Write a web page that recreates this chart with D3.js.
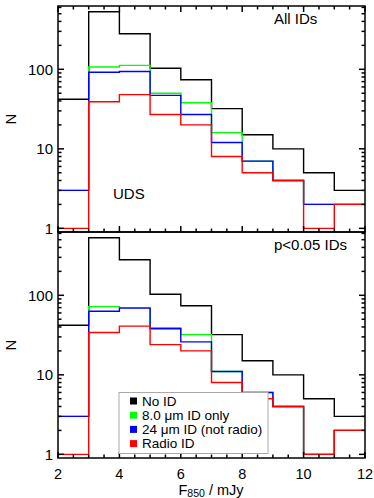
<!DOCTYPE html>
<html><head><meta charset="utf-8">
<script src="https://cdn.jsdelivr.net/npm/d3@7"></script>
<style>body{margin:0;background:#fff}svg{display:block}text{font-family:"Liberation Sans",Arial,sans-serif}</style>
</head><body><div id="chart"></div>
<script>
// bin edges (F850 / mJy)
const binEdges = [2,3,4,5,6,7,8,9,10,11,12];
const xTicks = [2,4,6,8,10,12];
const yTicks = [1,10,100];

// Top panel: All IDs
const allNoID    = [42, 530, 280, 103, 74, 32, 15, 10, 5, 3];
const allIRAC    = [3, 107, 112, 50, 38, 16, 7, 4, 2, 2];
const allMIPS    = [3, 92, 94, 47, 27, 12, 7, 4, 2, 2];
const allRadio   = [1, 39, 48, 27, 20, 8, 5, 4, 1, 2];

// Bottom panel: p<0.05 IDs
const pNoID      = [42, 530, 280, 103, 74, 32, 15, 10, 5, 3];
const pIRAC      = [3, 72, 70, 39, 32, 11, 6, 4, 1, 2];
const pMIPS      = [3, 63, 69, 38, 26, 11, 6, 4, 1, 2];
const pRadio     = [1, 34, 41, 24, 20, 8, 5, 4, 1, 2];

const seriesNames = ["No ID", "8.0 \u03BCm ID only", "24 \u03BCm ID (not radio)", "Radio ID"];
const seriesColors = ["#000000", "#00ff00", "#0000ff", "#ff0000"];

const W = 374, H = 498;
const L = 58, R = 365;
const panels = [
  {top: 6, bottom: 232, data: [allNoID, allIRAC, allMIPS, allRadio], label: "All IDs", topTicks: true},
  {top: 232, bottom: 458, data: [pNoID, pIRAC, pMIPS, pRadio], label: "p<0.05 IDs", topTicks: false}
];

const svg = d3.select("#chart").append("svg").attr("width", W).attr("height", H);
const x = d3.scaleLinear().domain([2, 12]).range([L, R]);

const minorX = d3.range(2, 12.01, 0.5).filter(v => Math.abs(v % 2) > 1e-6);
const minorY = [];
[0.1, 1, 10, 100].forEach(d => { for (let k = 2; k <= 9; k++) minorY.push(k * d); });

panels.forEach((p, pi) => {
  const y = d3.scaleLog().domain([0.9, 625]).range([p.bottom, p.top]);
  const g = svg.append("g");
  const clipId = "clip" + pi;
  svg.append("clipPath").attr("id", clipId).append("rect")
    .attr("x", L).attr("y", p.top).attr("width", R - L).attr("height", p.bottom - p.top);

  // histograms
  const lineGen = d3.line().x(d => x(d[0])).y(d => y(d[1]));
  p.data.forEach((vals, si) => {
    const pts = [];
    vals.forEach((v, i) => { pts.push([binEdges[i], v]); pts.push([binEdges[i + 1], v]); });
    g.append("path").attr("d", lineGen(pts)).attr("fill", "none")
      .attr("stroke", seriesColors[si]).attr("stroke-width", 1.4)
      .attr("clip-path", `url(#${clipId})`);
  });

  // axes frame
  const ax = svg.append("g").attr("stroke", "#000").attr("stroke-width", 1.5);
  ax.append("rect").attr("x", L).attr("y", p.top).attr("width", R - L).attr("height", p.bottom - p.top)
    .attr("fill", "none");

  // x ticks (bottom, pointing up)
  xTicks.forEach(v => ax.append("line").attr("x1", x(v)).attr("x2", x(v)).attr("y1", p.bottom).attr("y2", p.bottom - 6));
  minorX.forEach(v => ax.append("line").attr("x1", x(v)).attr("x2", x(v)).attr("y1", p.bottom).attr("y2", p.bottom - 3.5));
  if (p.topTicks) {
    xTicks.forEach(v => ax.append("line").attr("x1", x(v)).attr("x2", x(v)).attr("y1", p.top).attr("y2", p.top + 6));
    minorX.forEach(v => ax.append("line").attr("x1", x(v)).attr("x2", x(v)).attr("y1", p.top).attr("y2", p.top + 3.5));
  }
  // y ticks left & right
  const [d0, d1] = y.domain();
  yTicks.forEach(v => {
    ax.append("line").attr("x1", L).attr("x2", L + 6).attr("y1", y(v)).attr("y2", y(v));
    ax.append("line").attr("x1", R).attr("x2", R - 6).attr("y1", y(v)).attr("y2", y(v));
  });
  minorY.filter(v => v > d0 && v < d1).forEach(v => {
    ax.append("line").attr("x1", L).attr("x2", L + 3.5).attr("y1", y(v)).attr("y2", y(v));
    ax.append("line").attr("x1", R).attr("x2", R - 3.5).attr("y1", y(v)).attr("y2", y(v));
  });

  // y tick labels
  yTicks.forEach(v => svg.append("text").attr("x", L - 5).attr("y", y(v)).attr("dy", "0.36em")
    .attr("text-anchor", "end").attr("font-size", 15).text(v));

  // y axis label
  svg.append("text").attr("transform", `translate(16,${(p.top + p.bottom) / 2}) rotate(-90)`)
    .attr("text-anchor", "middle").attr("font-size", 15).text("N");

  // panel label
  svg.append("text").attr("x", 274).attr("y", p.top + 18).attr("font-size", 15).text(p.label);
});

// UDS label
svg.append("text").attr("x", 113).attr("y", 199).attr("font-size", 15).text("UDS");

// x tick labels
xTicks.forEach(v => svg.append("text").attr("x", x(v)).attr("y", 478.5).attr("text-anchor", "middle")
  .attr("font-size", 14.5).text(v));

// x axis label
const xl = svg.append("text").attr("x", 211).attr("y", 494.5).attr("text-anchor", "middle").attr("font-size", 14.5);
xl.append("tspan").text("F");
xl.append("tspan").attr("font-size", 10.5).attr("dy", 2.5).text("850");
xl.append("tspan").attr("dy", -2.5).text(" / mJy");

// legend
const lg = svg.append("g");
lg.append("rect").attr("x", 119).attr("y", 392.5).attr("width", 149).attr("height", 61)
  .attr("fill", "#fff").attr("stroke", "#aaaaaa").attr("stroke-width", 1);
seriesNames.forEach((n, i) => {
  const cy = 401 + i * 14.2;
  lg.append("rect").attr("x", 130).attr("y", cy - 3.5).attr("width", 7).attr("height", 7).attr("fill", seriesColors[i]);
  lg.append("text").attr("x", 142).attr("y", cy).attr("dy", "0.36em").attr("font-size", 13.5).text(n);
});
</script></body></html>
